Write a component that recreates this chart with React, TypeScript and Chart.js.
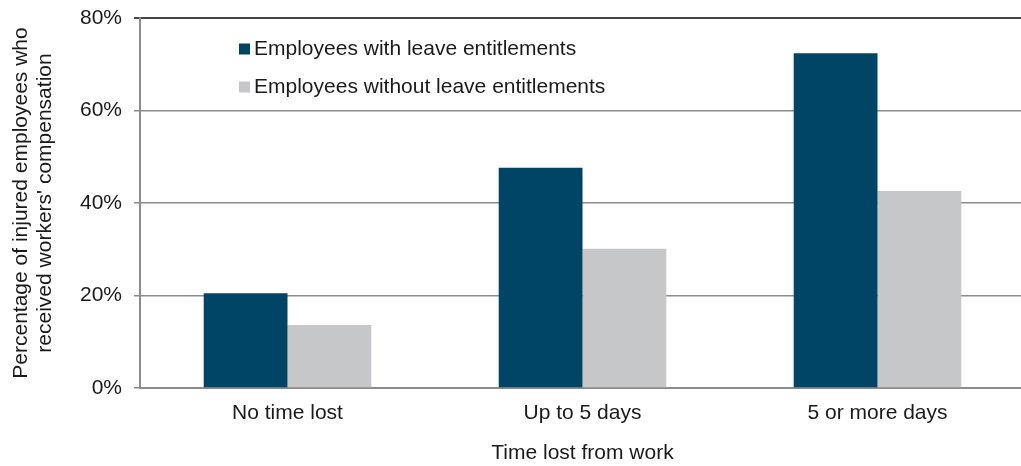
import React, { useEffect, useRef } from "react";
import { Chart, registerables } from "chart.js";

Chart.register(...registerables);

const categories = ["No time lost", "Up to 5 days", "5 or more days"];
const withLeave = [20.5, 47.6, 72.4];
const withoutLeave = [13.6, 30.1, 42.6];
const seriesNames = ["Employees with leave entitlements", "Employees without leave entitlements"];
const seriesColors = ["#004466", "#C6C7C9"];
const yTitle = ["Percentage of injured employees who", "received workers' compensation"];
const xTitle = "Time lost from work";

const FONT = "'Liberation Sans', Arial, sans-serif";
const TEXT = "#1a1a1a";

const legendPlugin = {
  id: "insideLegend",
  afterDraw(chart: any) {
    const { ctx, chartArea } = chart;
    ctx.save();
    ctx.font = `21px ${FONT}`;
    ctx.textBaseline = "middle";
    ctx.textAlign = "left";
    seriesNames.forEach((name, i) => {
      const x = chartArea.left + 99;
      const y = chartArea.top + 31 + i * 38;
      ctx.fillStyle = seriesColors[i];
      ctx.fillRect(x, y - 5.5, 11, 11);
      ctx.fillStyle = TEXT;
      ctx.fillText(name, x + 15, y);
    });
    ctx.restore();
  },
};

export default function App() {
  const ref = useRef<HTMLCanvasElement>(null);
  useEffect(() => {
    document.body.style.margin = "0";
    const chart = new Chart(ref.current!, {
      type: "bar",
      data: {
        labels: categories,
        datasets: [
          { label: seriesNames[0], data: withLeave, backgroundColor: seriesColors[0], categoryPercentage: 0.568, barPercentage: 1 },
          { label: seriesNames[1], data: withoutLeave, backgroundColor: seriesColors[1], categoryPercentage: 0.568, barPercentage: 1 },
        ],
      },
      options: {
        responsive: false,
        animation: false,
        layout: { padding: { top: 18, right: 0, left: 0, bottom: 0 } },
        plugins: { legend: { display: false }, tooltip: { enabled: false } },
        scales: {
          x: {
            grid: { display: false, drawTicks: false },
            border: { display: true, color: "#8c8c8c", width: 2 },
            ticks: { color: TEXT, font: { family: FONT, size: 21, lineHeight: 1.2 }, padding: 13 },
            title: { display: true, text: xTitle, color: TEXT, font: { family: FONT, size: 21, lineHeight: 1.2 }, padding: { top: 26, bottom: 0 } },
            afterFit(scale: any) { scale.height = 78; },
          },
          y: {
            min: 0,
            max: 80,
            ticks: { stepSize: 20, color: TEXT, font: { family: FONT, size: 21 }, padding: 12, callback: (v: any) => v + "%" },
            grid: {
              color: (c: any) => (c.tick && c.tick.value === 80 ? "#444444" : "#8c8c8c"),
              lineWidth: (c: any) => (c.tick && c.tick.value === 80 ? 2 : 1.5),
              tickLength: 6,
            },
            border: { display: true, color: "#8c8c8c", width: 2 },
            title: { display: true, text: yTitle, color: TEXT, font: { family: FONT, size: 21, lineHeight: 1.15 }, padding: { top: 9, bottom: 0 } },
            afterFit(scale: any) {
              scale.width = 140;
              scale.paddingTop = 0;
              scale.paddingBottom = 0;
            },
          },
        },
      },
      plugins: [legendPlugin],
    });
    return () => chart.destroy();
  }, []);
  return (
    <div style={{ width: 1021, height: 466, overflow: "hidden" }}>
      <canvas ref={ref} width={1025} height={466} style={{ display: "block" }} />
    </div>
  );
}
